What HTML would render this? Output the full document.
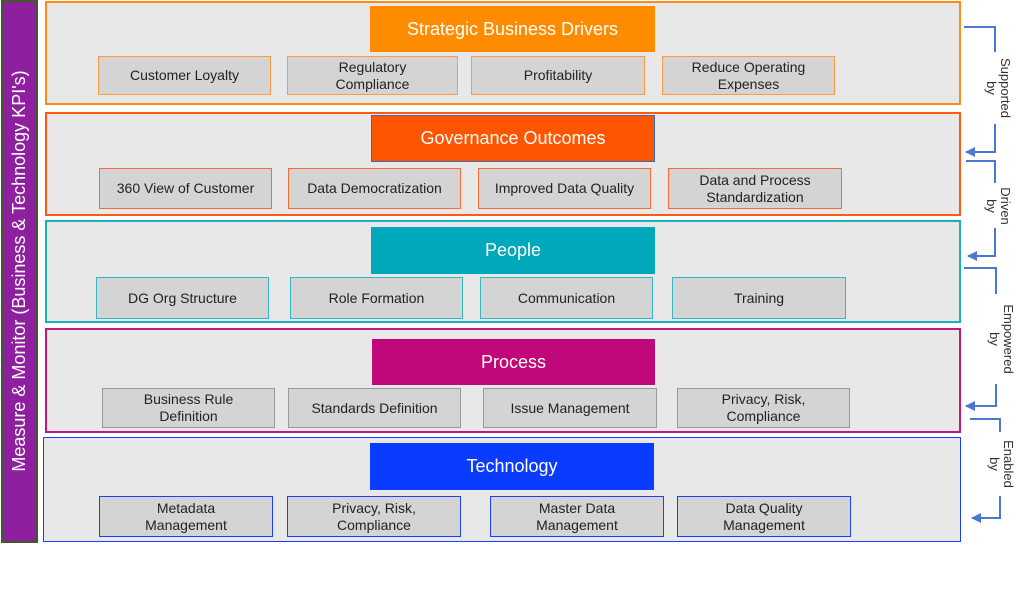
<!DOCTYPE html><html><head><style>
body{margin:0;width:1025px;height:600px;background:#fff;position:relative;font-family:"Liberation Sans",sans-serif;overflow:hidden}
.a{position:absolute;box-sizing:border-box}
.band{background:#e8e8e8;border:2px solid}
.hd{color:#fff;font-size:18px;display:flex;align-items:center;justify-content:center}
.it{background:#d4d4d4;border:1px solid;font-size:14px;color:#222;display:flex;align-items:center;justify-content:center;text-align:center;line-height:17px}
</style></head><body>
<div class="a" style="left:1px;top:0;width:37px;height:543px;background:#8e1f9e;border:2px solid #3c5a2a"></div>
<div class="a" style="left:19px;top:271px;width:540px;height:24px;margin-left:-270px;margin-top:-12px;transform:rotate(-90deg);color:#fff;font-size:18px;text-align:center;line-height:24px;white-space:nowrap">Measure &amp; Monitor (Business &amp; Technology KPI's)</div>

<div class="a band" style="left:45px;top:1px;width:916px;height:104px;border-color:#ff8a14"></div>
<div class="a hd" style="left:370px;top:6px;width:285px;height:46px;background:#ff8c00">Strategic Business Drivers</div>
<div class="a it" style="left:98px;top:56px;width:173px;height:39px;border-color:#ff9a40">Customer Loyalty</div>
<div class="a it" style="left:287px;top:56px;width:171px;height:39px;border-color:#ff9a40">Regulatory<br>Compliance</div>
<div class="a it" style="left:471px;top:56px;width:174px;height:39px;border-color:#ff9a40">Profitability</div>
<div class="a it" style="left:662px;top:56px;width:173px;height:39px;border-color:#ff9a40">Reduce Operating<br>Expenses</div>

<div class="a band" style="left:45px;top:112px;width:916px;height:104px;border-color:#ff5a14"></div>
<div class="a hd" style="left:371px;top:115px;width:284px;height:47px;background:#ff5500;border:1px solid #3a6ab0">Governance Outcomes</div>
<div class="a it" style="left:99px;top:168px;width:173px;height:41px;border-color:#ff6a30">360 View of Customer</div>
<div class="a it" style="left:288px;top:168px;width:173px;height:41px;border-color:#ff6a30">Data Democratization</div>
<div class="a it" style="left:478px;top:168px;width:173px;height:41px;border-color:#ff6a30">Improved Data Quality</div>
<div class="a it" style="left:668px;top:168px;width:174px;height:41px;border-color:#ff6a30">Data and Process<br>Standardization</div>

<div class="a band" style="left:45px;top:220px;width:916px;height:103px;border-color:#1ab0c0"></div>
<div class="a hd" style="left:371px;top:227px;width:284px;height:47px;background:#00a8bc">People</div>
<div class="a it" style="left:96px;top:277px;width:173px;height:42px;border-color:#30b8c8">DG Org Structure</div>
<div class="a it" style="left:290px;top:277px;width:173px;height:42px;border-color:#30b8c8">Role Formation</div>
<div class="a it" style="left:480px;top:277px;width:173px;height:42px;border-color:#30b8c8">Communication</div>
<div class="a it" style="left:672px;top:277px;width:174px;height:42px;border-color:#30b8c8">Training</div>

<div class="a band" style="left:45px;top:328px;width:916px;height:105px;border-color:#c0187c"></div>
<div class="a hd" style="left:372px;top:339px;width:283px;height:46px;background:#c0087a">Process</div>
<div class="a it" style="left:102px;top:388px;width:173px;height:40px;border-color:#999">Business Rule<br>Definition</div>
<div class="a it" style="left:288px;top:388px;width:173px;height:40px;border-color:#999">Standards Definition</div>
<div class="a it" style="left:483px;top:388px;width:174px;height:40px;border-color:#999">Issue Management</div>
<div class="a it" style="left:677px;top:388px;width:173px;height:40px;border-color:#999">Privacy, Risk,<br>Compliance</div>

<div class="a band" style="left:43px;top:437px;width:918px;height:105px;border-color:#1a3fff;border-width:1px"></div>
<div class="a hd" style="left:370px;top:443px;width:284px;height:47px;background:#0a3cff">Technology</div>
<div class="a it" style="left:99px;top:496px;width:174px;height:41px;border-color:#1a3fff">Metadata<br>Management</div>
<div class="a it" style="left:287px;top:496px;width:174px;height:41px;border-color:#1a3fff">Privacy, Risk,<br>Compliance</div>
<div class="a it" style="left:490px;top:496px;width:174px;height:41px;border-color:#1a3fff">Master Data<br>Management</div>
<div class="a it" style="left:677px;top:496px;width:174px;height:41px;border-color:#1a3fff">Data Quality<br>Management</div>

<svg class="a" style="left:0;top:0" width="1025" height="600">
<defs><marker id="m" markerWidth="10" markerHeight="10" refX="9" refY="5" orient="auto" markerUnits="userSpaceOnUse"><path d="M0,0L10,5L0,10z" fill="#4a78d0"/></marker></defs>
<g fill="none" stroke="#4a78d0" stroke-width="2">
<path d="M964,27H995V52"/><path d="M995,124V152H966" marker-end="url(#m)"/>
<path d="M966,161H995V183"/><path d="M995,228V256H968" marker-end="url(#m)"/>
<path d="M964,268H996V294"/><path d="M996,384V406H966" marker-end="url(#m)"/>
<path d="M970,419H1000V432"/><path d="M1000,496V518H972" marker-end="url(#m)"/>
</g>
<g font-size="13" fill="#333" font-family="Liberation Sans, sans-serif" text-anchor="middle">
<text transform="translate(1001,88) rotate(90)">Supported</text><text transform="translate(987,88) rotate(90)">by</text>
<text transform="translate(1001,206) rotate(90)">Driven</text><text transform="translate(987,206) rotate(90)">by</text>
<text transform="translate(1004,339) rotate(90)">Empowered</text><text transform="translate(990,339) rotate(90)">by</text>
<text transform="translate(1004,464) rotate(90)">Enabled</text><text transform="translate(990,464) rotate(90)">by</text>
</g></svg>
</body></html>
